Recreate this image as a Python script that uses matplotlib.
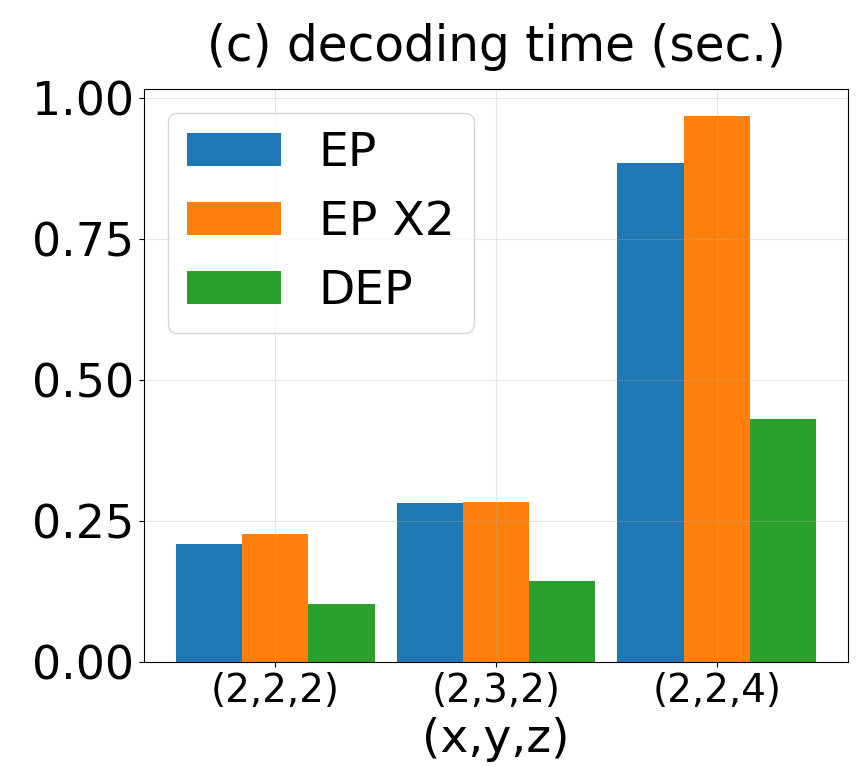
import numpy as np
import matplotlib
matplotlib.use("Agg")
import matplotlib.pyplot as plt

configs = ["(2,2,2)", "(2,3,2)", "(2,2,4)"]
ep = [0.209, 0.282, 0.885]
ep_x2 = [0.227, 0.284, 0.968]
dep = [0.103, 0.144, 0.431]

fig, ax = plt.subplots(figsize=(8.64, 7.67), dpi=100)
fig.subplots_adjust(left=0.1667, right=0.9815, top=0.884, bottom=0.137)

x = np.arange(len(configs))
w = 0.3
ax.bar(x - w, ep, w, label="EP")
ax.bar(x, ep_x2, w, label="EP X2")
ax.bar(x + w, dep, w, label="DEP")

ax.set_xticks(x)
ax.set_xticklabels(configs, fontsize=28)
ax.set_yticks([0, 0.25, 0.5, 0.75, 1.0])
ax.tick_params(axis="y", labelsize=33)
ax.set_xlabel("(x,y,z)", fontsize=34, labelpad=5)
ax.set_title("(c) decoding time (sec.)", fontsize=35, pad=20)
ax.grid(True, alpha=0.3)
ax.legend(fontsize=34, loc="upper left")

fig.savefig("out.png")
